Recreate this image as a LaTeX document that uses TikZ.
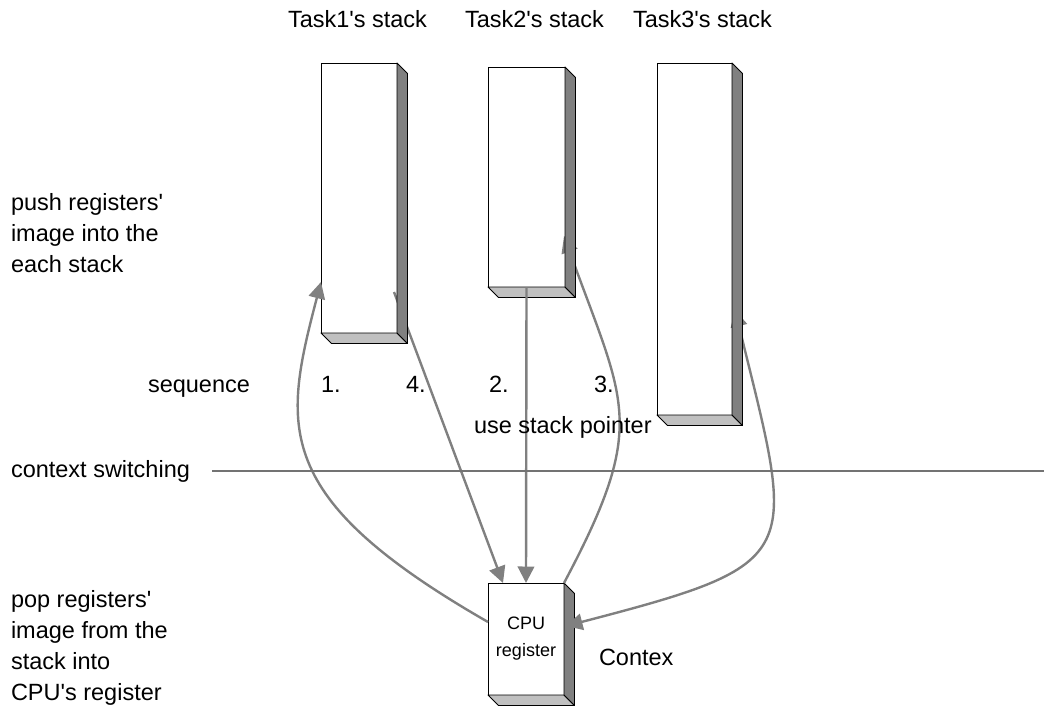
\documentclass[tikz,border=0pt]{standalone}
\usepackage{fontspec}
\setmainfont{Liberation Sans}[Ligatures=TeXOff]
\usetikzlibrary{arrows.meta,calc}

\definecolor{sidegray}{HTML}{808080}
\definecolor{basegray}{HTML}{C0C0C0}
\definecolor{linkgray}{HTML}{808080}

\tikzset{
  stackbox/.style={draw=black, fill=white, line width=0.9pt, inner sep=0pt,
                   outer sep=0pt, anchor=north west},
  face/.style={draw=black, line width=0.9pt, line join=round},
  link/.style={draw=linkgray, line width=2.4pt, -{Triangle[length=16.5pt,width=16.5pt]}},
  both/.style={draw=linkgray, line width=2.4pt,
               {Triangle[length=16.5pt,width=16.5pt]}-{Triangle[length=16.5pt,width=16.5pt]}},
  lbl/.style={anchor=base west, inner sep=0pt, outer sep=0pt,
              font=\fontsize{23.5}{31}\selectfont},
  rule/.style={draw=black!55, line width=1.2pt},
}

% 3-D faces of a box: bottom slab and right-hand side
\newcommand\boxbottom[1]{%
  \filldraw[face, fill=basegray] (#1.south west) -- (#1.south east)
    -- ($(#1.south east)+(10.5,10.5)$) -- ($(#1.south west)+(10.5,10.5)$) -- cycle;}
\newcommand\boxside[1]{%
  \filldraw[face, fill=sidegray] (#1.north east) -- ($(#1.north east)+(10.5,10.5)$)
    -- ($(#1.south east)+(10.5,10.5)$) -- (#1.south east) -- cycle;}

\begin{document}
\begin{tikzpicture}[x=1pt,y=-1pt]
  \useasboundingbox (0,0) rectangle (1044,709);

  % stacks and the register block
  \node[stackbox, minimum width=76pt, minimum height=270pt] (T1) at (321,63) {};
  \node[stackbox, minimum width=77pt, minimum height=220pt] (T2) at (488,67) {};
  \node[stackbox, minimum width=75pt, minimum height=352pt] (T3) at (657,63) {};
  \node[stackbox, minimum width=76pt, minimum height=112pt, align=center,
        font=\fontsize{18}{27}\selectfont] (CPU) at (488,583) {CPU\\register};

  \boxbottom{T1}
  \boxbottom{T2}
  \boxbottom{T3}
  \boxbottom{CPU}
  \boxside{CPU}

  % register image transfers
  \draw[link] ($(CPU.north west)+(0,39)$)
    .. controls +(-218,-125) and +(-38,145) .. ($(T1.south west)+(0,-51)$);
  \draw[link] ($(T1.south east)+(-3,-41)$) -- ($(CPU.north west)+(15,0)$);
  \draw[link] (T2.south) -- (CPU.north);
  \draw[link] (CPU.north east)
    .. controls +(85,-160) and +(61,169) .. ($(T2.south east)+(-1,-51)$);
  \draw[both] ($(T3.south east)+(3,-105)$)
    .. controls +(61,248) and +(242,-63) .. ($(CPU.east)+(2,-13)$);

  \boxside{T1}
  \boxside{T2}
  \boxside{T3}

  % headings
  \node[lbl] (h1) at (288,28) {Task1's stack};
  \node[lbl] (h2) at (465,28) {Task2's stack};
  \node[lbl] (h3) at (633,28) {Task3's stack};

  % side notes
  \node[lbl] (push) at (11,210) {\begin{tabular}[t]{@{}l@{}}push registers'\\image into the\\each stack\end{tabular}};
  \node[lbl] (pop) at (11,607) {\begin{tabular}[t]{@{}l@{}}pop registers'\\image from the\\stack into\\CPU's register\end{tabular}};

  % sequence numbering
  \node[lbl] (seq) at (148,392) {sequence};
  \node[lbl] (s1) at (321,392) {1.};
  \node[lbl] (s4) at (406,392) {4.};
  \node[lbl] (s2) at (489,392) {2.};
  \node[lbl] (s3) at (594,392) {3.};
  \node[lbl] (sp) at (474,433) {use stack pointer};

  % context switching boundary
  \node[lbl] (ctx) at (11,477) {context switching};
  \coordinate (ruleL) at (212,471);
  \coordinate (ruleR) at (1044,471);
  \draw[rule] (ruleL) -- (ruleR);

  \node[lbl] (contex) at (599,665) {Contex};
\end{tikzpicture}
\end{document}
